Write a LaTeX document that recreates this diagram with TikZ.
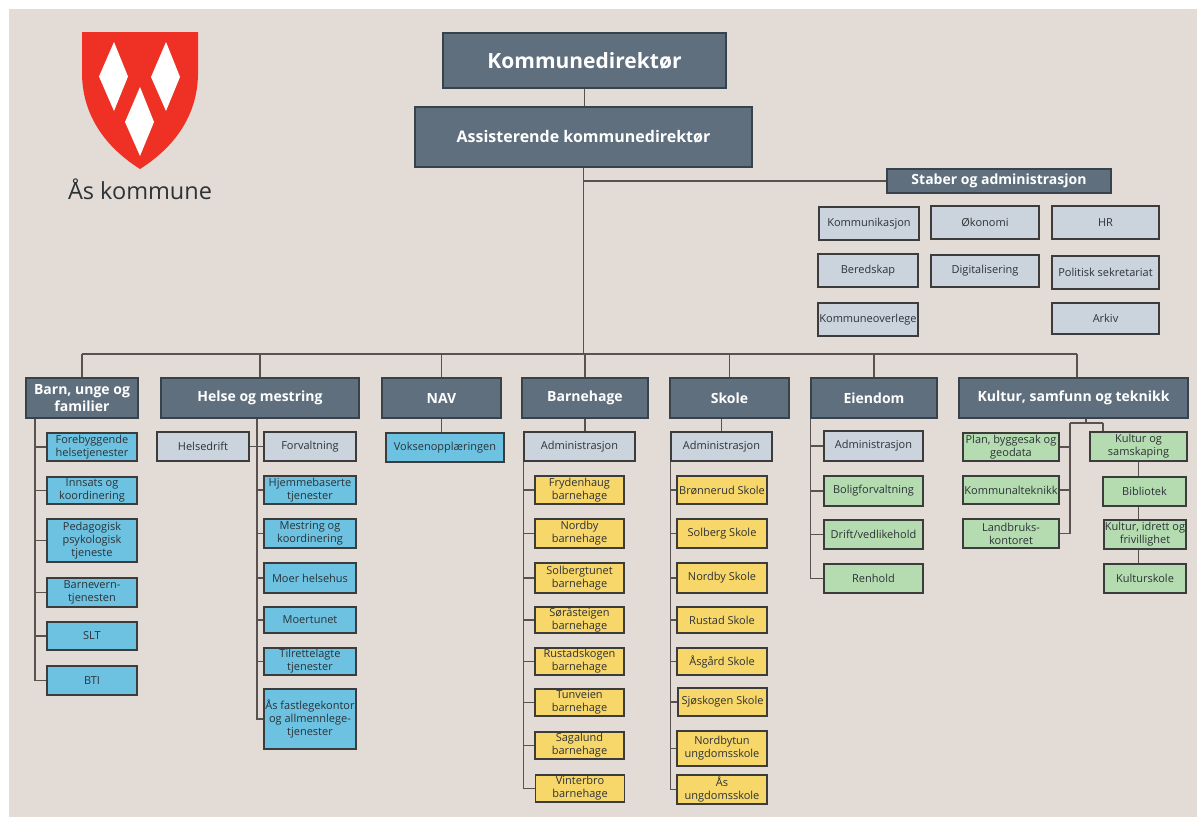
\documentclass[tikz,border=0pt]{standalone}
\usepackage{fontspec}
\setmainfont{Open Sans}
\pgfdeclarelayer{bg}
\pgfdeclarelayer{lines}
\pgfsetlayers{bg,lines,main}
\definecolor{bgc}{RGB}{227,220,214}
\definecolor{darkc}{RGB}{95,111,126}
\definecolor{darkb}{RGB}{55,66,76}
\definecolor{grayc}{RGB}{203,211,220}
\definecolor{bluec}{RGB}{108,194,224}
\definecolor{yelc}{RGB}{247,214,106}
\definecolor{greenc}{RGB}{180,220,176}
\definecolor{redc}{RGB}{238,49,36}
\definecolor{linec}{RGB}{90,82,80}
\definecolor{boxb}{RGB}{60,60,60}
\definecolor{txt}{RGB}{45,50,55}
\tikzset{
  box/.style={draw=boxb, line width=1.3pt, inner sep=0pt, align=center, text=txt,
    font=\fontsize{11}{13}\selectfont},
  darkbox/.style={box, fill=darkc, draw=darkb, text=white},
  top1/.style={darkbox, font=\fontsize{21}{25}\selectfont\bfseries},
  top2/.style={darkbox, font=\fontsize{16}{19}\selectfont\bfseries},
  stabbox/.style={darkbox, font=\fontsize{14}{16}\selectfont\bfseries},
  dept/.style={darkbox, font=\fontsize{14}{16.5}\selectfont\bfseries},
  graybox/.style={box, fill=grayc},
  bluebox/.style={box, fill=bluec},
  yelbox/.style={box, fill=yelc},
  greenbox/.style={box, fill=greenc},
  conn/.style={draw=linec, line width=1.4pt},
}
\begin{document}
\begin{tikzpicture}[x=1pt,y=-1pt]
\useasboundingbox (0,0) rectangle (1197,817);
\begin{pgfonlayer}{bg}
\fill[bgc] (9,9) rectangle (1197,817);
\end{pgfonlayer}
% shield
\fill[redc] (82,32) -- (198,32) -- (198,75) .. controls (197,120) and (170,150) .. (140,169)
  .. controls (110,150) and (83,120) .. (82,75) -- cycle;
\fill[white] (114,42) -- (128,76.5) -- (114,111) -- (99,76.5) -- cycle;
\fill[white] (166,42) -- (180,77) -- (166,111) -- (151,77) -- cycle;
\fill[white] (140,87) -- (154,122) -- (140,156) -- (125,122) -- cycle;
\node[text=txt, font=\fontsize{23.5}{27}\selectfont, inner sep=0pt] (logo) at (140,189) {Ås kommune};

% top
\node[top1, minimum width=283, minimum height=55] (kd) at (584.5,60.5) {Kommunedirektør};
\node[top2, minimum width=337, minimum height=60] (akd) at (583.5,137) {Assisterende kommunedirektør};
\node[stabbox, minimum width=224, minimum height=24] (staber) at (999,181) {Staber og administrasjon};

% staff
\node[graybox, minimum width=100, minimum height=33] (komm) at (869,223.5) {Kommunikasjon};
\node[graybox, minimum width=108, minimum height=33] (okon) at (985,222.5) {Økonomi};
\node[graybox, minimum width=107, minimum height=33] (hr) at (1105.5,222.5) {HR};
\node[graybox, minimum width=100, minimum height=33] (bered) at (868,270.5) {Beredskap};
\node[graybox, minimum width=108, minimum height=32] (digi) at (985,271) {Digitalisering};
\node[graybox, minimum width=107, minimum height=33] (polit) at (1105.5,272.5) {Politisk sekretariat};
\node[graybox, minimum width=100, minimum height=33] (kovl) at (868,319.5) {Kommuneoverlege};
\node[graybox, minimum width=107, minimum height=31] (arkiv) at (1105.5,318.5) {Arkiv};

% departments
\node[dept, minimum width=112, minimum height=40] (barn) at (82,398) {Barn, unge og\\familier};
\node[dept, minimum width=198, minimum height=40] (helse) at (260,398) {Helse og mestring};
\node[dept, minimum width=119, minimum height=40] (nav) at (441.5,398) {NAV};
\node[dept, minimum width=126, minimum height=40] (bhg) at (585,398) {Barnehage};
\node[dept, minimum width=119, minimum height=40] (skole) at (729.5,398) {Skole};
\node[dept, minimum width=126, minimum height=40] (eiend) at (874,398) {Eiendom};
\node[dept, minimum width=229, minimum height=40] (kst) at (1073.5,398) {Kultur, samfunn og teknikk};

% barn children
\node[bluebox, minimum width=90, minimum height=28] (fore) at (92,447) {Forebyggende\\helsetjenester};
\node[bluebox, minimum width=90, minimum height=27] (inns) at (92,490.5) {Innsats og\\koordinering};
\node[bluebox, minimum width=90, minimum height=43] (ped) at (92,540.5) {Pedagogisk\\psykologisk\\tjeneste};
\node[bluebox, minimum width=90, minimum height=29] (bvt) at (92,592.5) {Barnevern-\\tjenesten};
\node[bluebox, minimum width=90, minimum height=28] (slt) at (92,636) {SLT};
\node[bluebox, minimum width=90, minimum height=29] (bti) at (92,680.5) {BTI};

% helse children
\node[graybox, minimum width=92, minimum height=29] (hdrift) at (203,446.5) {Helsedrift};
\node[graybox, minimum width=92, minimum height=29] (forv) at (310,446.5) {Forvaltning};
\node[bluebox, minimum width=92, minimum height=28] (hjem) at (310,490) {Hjemmebaserte\\tjenester};
\node[bluebox, minimum width=92, minimum height=29] (mest) at (310,533.5) {Mestring og\\koordinering};
\node[bluebox, minimum width=92, minimum height=30] (moer) at (310,578) {Moer helsehus};
\node[bluebox, minimum width=92, minimum height=26] (moert) at (310,620) {Moertunet};
\node[bluebox, minimum width=92, minimum height=27] (tilr) at (310,661.5) {Tilrettelagte\\tjenester};
\node[bluebox, minimum width=92, minimum height=60] (fast) at (310,719) {Ås fastlegekontor\\og allmennlege-\\tjenester};

% nav
\node[bluebox, minimum width=118, minimum height=29] (voks) at (445,447.5) {Voksenopplæringen};

% barnehage
\node[graybox, minimum width=111, minimum height=29] (adm1) at (579.5,446.5) {Administrasjon};
\node[yelbox, minimum width=89, minimum height=28] (fryd) at (579.5,490) {Frydenhaug\\barnehage};
\node[yelbox, minimum width=89, minimum height=29] (nbhg) at (579.5,533.5) {Nordby\\barnehage};
\node[yelbox, minimum width=89, minimum height=30] (solbt) at (579.5,578) {Solbergtunet\\barnehage};
\node[yelbox, minimum width=89, minimum height=26] (soras) at (579.5,620) {Søråsteigen\\barnehage};
\node[yelbox, minimum width=89, minimum height=27] (rusk) at (579.5,661.5) {Rustadskogen\\barnehage};
\node[yelbox, minimum width=89, minimum height=27] (tunv) at (579.5,702.5) {Tunveien\\barnehage};
\node[yelbox, minimum width=89, minimum height=27] (sagal) at (579.5,745.5) {Sagalund\\barnehage};
\node[yelbox, minimum width=89, minimum height=27] (vint) at (580,788.5) {Vinterbro\\barnehage};

% skole
\node[graybox, minimum width=101, minimum height=29] (adm2) at (721.5,446.5) {Administrasjon};
\node[yelbox, minimum width=90, minimum height=28] (bron) at (722,490) {Brønnerud Skole};
\node[yelbox, minimum width=90, minimum height=29] (solb) at (722,533.5) {Solberg Skole};
\node[yelbox, minimum width=90, minimum height=30] (nbs) at (722,578) {Nordby Skole};
\node[yelbox, minimum width=90, minimum height=26] (rust) at (722,620) {Rustad Skole};
\node[yelbox, minimum width=90, minimum height=27] (asg) at (722,661.5) {Åsgård Skole};
\node[yelbox, minimum width=89, minimum height=28] (sjo) at (722.5,702) {Sjøskogen Skole};
\node[yelbox, minimum width=90, minimum height=35] (nbtun) at (722,748.5) {Nordbytun\\ungdomsskole};
\node[yelbox, minimum width=90, minimum height=29] (asu) at (722,789.5) {Ås\\ungdomsskole};

% eiendom
\node[graybox, minimum width=99, minimum height=30] (adm3) at (873.5,446) {Administrasjon};
\node[greenbox, minimum width=99, minimum height=30] (bolig) at (873.5,491) {Boligforvaltning};
\node[greenbox, minimum width=99, minimum height=29] (drift) at (873.5,534.5) {Drift/vedlikehold};
\node[greenbox, minimum width=99, minimum height=29] (renh) at (873.5,578.5) {Renhold};

% kultur samfunn teknikk
\node[greenbox, minimum width=96, minimum height=28] (plan) at (1011,447) {Plan, byggesak og\\geodata};
\node[greenbox, minimum width=96, minimum height=28] (kommt) at (1011,490) {Kommunalteknikk};
\node[greenbox, minimum width=96, minimum height=29] (landb) at (1011,533.5) {Landbruks-\\kontoret};
\node[greenbox, minimum width=97, minimum height=29] (ksam) at (1138.5,446.5) {Kultur og\\samskaping};
\node[greenbox, minimum width=83, minimum height=29] (bibl) at (1144.5,491.5) {Bibliotek};
\node[greenbox, minimum width=82, minimum height=29] (kif) at (1145,534.5) {Kultur, idrett og\\frivillighet};
\node[greenbox, minimum width=82, minimum height=29] (kskole) at (1145,578.5) {Kulturskole};

% connectors
\coordinate (busL) at (82,354);
\coordinate (busR) at (1077,354);
\coordinate (barnL) at (35,418);
\coordinate (helseL) at (257,418);
\coordinate (kstJ) at (1086,423);
\coordinate (kstA) at (1070,423);
\coordinate (kstB) at (1103,423);
\begin{pgfonlayer}{lines}
\draw[conn] (kd.south) -- (kd.south |- akd.north);
\draw[conn] (akd.south) -- (akd.south |- busL);
\draw[conn] (akd.south |- staber.west) -- (staber.west);
\draw[conn] (busL) -- (busR);
\foreach \d in {barn,helse,nav,bhg,skole,eiend}{\draw[conn] (\d.north) -- (\d.north |- busL);}
\draw[conn] (busR) -- (busR |- kst.north);
% barn
\draw[conn] (barnL) |- (bti.west);
\foreach \c in {fore,inns,ped,bvt,slt}{\draw[conn] (\c.west) -- (\c.west -| barnL);}
% helse
\draw[conn] (helseL) |- (fast.west);
\draw[conn] (hdrift.east) -- (forv.west);
\foreach \c in {hjem,mest,moer,moert,tilr}{\draw[conn] (\c.west) -- (\c.west -| helseL);}
% nav
\draw[conn] (nav.south) -- (nav.south |- voks.north);
% barnehage
\draw[conn] (bhg.south) -- (bhg.south |- adm1.north);
\draw[conn] (adm1.south west) |- (vint.west);
\foreach \c in {fryd,nbhg,solbt,soras,rusk,tunv,sagal}{\draw[conn] (\c.west) -- (\c.west -| adm1.south west);}
% skole
\draw[conn] (adm2.north |- skole.south) -- (adm2.north);
\draw[conn] (adm2.south west) |- (asu.west);
\foreach \c in {bron,solb,nbs,rust,asg,sjo,nbtun}{\draw[conn] (\c.west) -- (\c.west -| adm2.south west);}
% eiendom
\draw[conn] (eiend.south west) |- (renh.west);
\foreach \c in {adm3,bolig,drift}{\draw[conn] (\c.west) -- (\c.west -| eiend.south west);}
% kst
\draw[conn] (kstJ |- kst.south) -- (kstJ);
\draw[conn] (kstA) -- (kstB);
\draw[conn] (kstA) |- (landb.east);
\foreach \c in {plan,kommt}{\draw[conn] (\c.east) -- (\c.east -| kstA);}
\draw[conn] (kstB) -- (kstB |- ksam.north);
\draw[conn] (ksam.south) -- (ksam.south |- kskole.north);
\end{pgfonlayer}
\end{tikzpicture}
\end{document}
